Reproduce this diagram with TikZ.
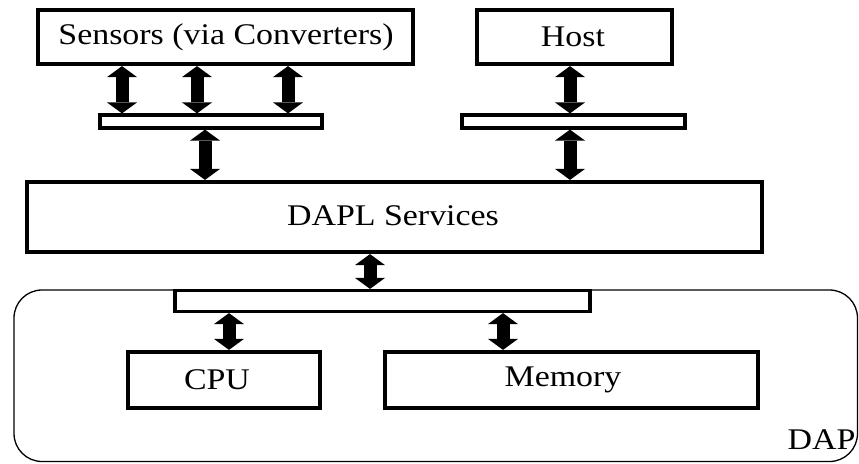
\documentclass[tikz,border=0pt]{standalone}
\usepackage{fontspec}
\setmainfont{Liberation Serif}
\usetikzlibrary{arrows.meta}
\tikzset{
  box/.style={draw, line width=4.2pt, fill=white, inner sep=0pt, anchor=center},
  bus/.style={draw, line width=3.2pt, fill=white, inner sep=0pt, anchor=center},
  darr/.style={line width=13pt, {Triangle[length=11pt,width=30pt,line width=0pt]}-{Triangle[length=11pt,width=30pt,line width=0pt]}},
  lbl/.style={font=\fontsize{30}{36}\selectfont}
}
\newcommand{\wt}[1]{\scalebox{1.13}[1]{#1}}
\begin{document}
\begin{tikzpicture}[x=1pt,y=-1pt]
\useasboundingbox (0,0) rectangle (859,463);
% DAP enclosure
\draw[line width=1.3pt, rounded corners=28pt] (14,290) rectangle (857.5,461.5);
\node[lbl, anchor=east] (daplbl) at (859,440) {\wt{DAP}};
% top boxes
\node[box, minimum width=375pt, minimum height=54pt] (sens) at (225.5,37) {};
\node[lbl] (senst) at (226,37) {\wt{Sensors (via Converters)}};
\node[box, minimum width=195pt, minimum height=54pt] (host) at (574.5,37) {};
\node[lbl] (hostt) at (573,37) {\wt{Host}};
% buses
\node[bus, minimum width=222pt, minimum height=13pt] (sbus) at (211,121.5) {};
\node[bus, minimum width=223pt, minimum height=13pt] (hbus) at (573.5,121.5) {};
% DAPL
\node[box, minimum width=735pt, minimum height=70pt] (dapl) at (394.5,217) {};
\node[lbl] (daplt) at (393,216) {\wt{DAPL Services}};
% lower bus
\node[bus, minimum width=415pt, minimum height=21pt] (lbus) at (382.5,301) {};
% CPU, Memory
\node[box, minimum width=192pt, minimum height=56pt] (cpu) at (224,380) {};
\node[lbl] (cput) at (217,380) {\wt{CPU}};
\node[box, minimum width=373pt, minimum height=56pt] (mem) at (571.5,380) {};
\node[lbl] (memt) at (563,380) {\wt{Memory}};
% arrows
\coordinate (x1) at (122,0);
\coordinate (x2) at (197,0);
\coordinate (x3) at (288,0);
\coordinate (x4) at (205,0);
\coordinate (x5) at (570,0);
\coordinate (x6) at (370,0);
\coordinate (x7) at (229,0);
\coordinate (x8) at (503,0);
\draw[darr] (sens.south -| x1) -- (sbus.north -| x1);
\draw[darr] (sens.south -| x2) -- (sbus.north -| x2);
\draw[darr] (sens.south -| x3) -- (sbus.north -| x3);
\draw[darr] (sbus.south -| x4) -- (dapl.north -| x4);
\draw[darr] (host.south -| x5) -- (hbus.north -| x5);
\draw[darr] (hbus.south -| x5) -- (dapl.north -| x5);
\draw[darr] (dapl.south -| x6) -- (lbus.north -| x6);
\draw[darr] (lbus.south -| x7) -- (cpu.north -| x7);
\draw[darr] (lbus.south -| x8) -- (mem.north -| x8);
\end{tikzpicture}
\end{document}
